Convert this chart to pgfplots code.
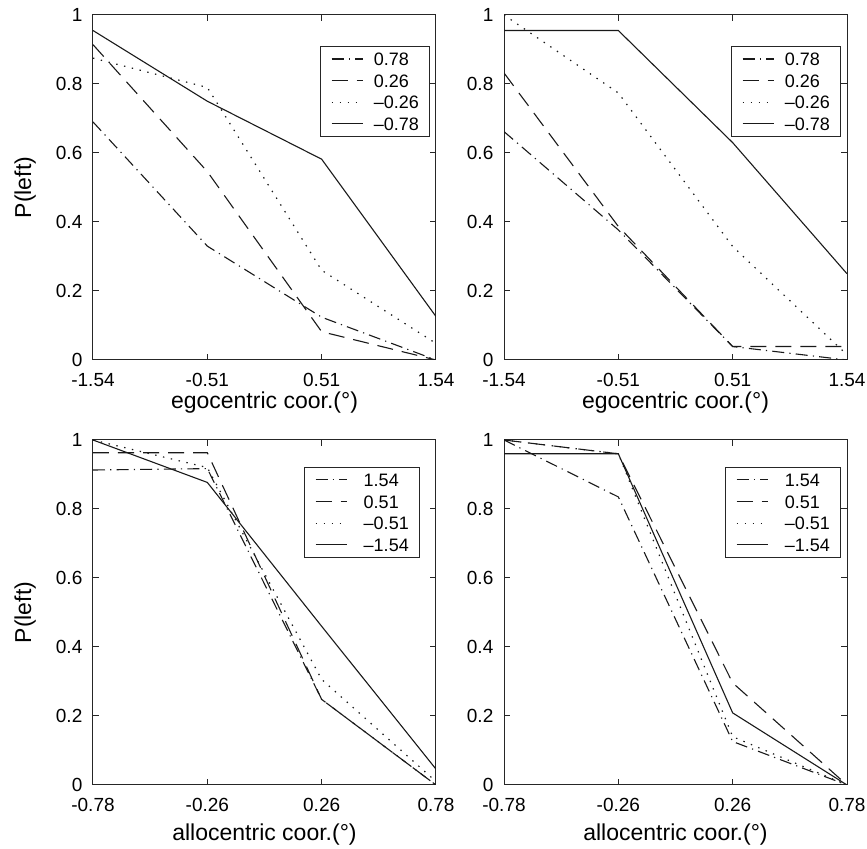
\documentclass[border=0pt]{standalone}
\usepackage{fontspec}
\setmainfont{Liberation Sans}
\usepackage{pgfplots}
\pgfplotsset{compat=1.18}

\newcommand{\tg}[1]{\hspace*{5pt}#1\hspace{-5pt}}
\newcommand{\bg}[1]{\hspace*{8pt}#1\hspace{-5pt}}
\pgfplotsset{
  panel/.style={
    scale only axis, width=171.5pt, height=172.5pt,
    anchor=south west,
    xmin=0, xmax=3, ymin=0, ymax=1,
    xtick={0,1,2,3}, ytick={0,0.2,0.4,0.6,0.8,1},
    tick align=inside, tick pos=both, major tick length=3pt,
    axis line style={line width=0.5pt, black!85},
    every tick/.style={black!85, line width=0.5pt},
    tick label style={font=\fontsize{9.5}{11}\selectfont},
    xticklabel style={yshift=-3pt},
    yticklabel style={xshift=-1.8pt},
    label style={font=\fontsize{11.5}{13}\selectfont},
    /pgf/number format/assume math mode=true,
    legend cell align=left,
    legend image code/.code={\draw[##1] (0pt,0pt) -- (15.8pt,0pt);},
    legend style={draw=black!85, line width=0.5pt, fill=white,
      anchor=north east,
      font=\fontsize{9}{10}\selectfont,
      inner xsep=5.3pt, inner ysep=3pt,
      nodes={inner sep=0pt, text height=6.5pt, text depth=0pt},
      row sep=4.3pt, column sep=0pt},
  },
  egoticks/.style={xticklabels={-1.54,-0.51,0.51,1.54},
    xlabel={egocentric coor.(°)},
    xlabel style={at={(axis description cs:0.5,-0.1246)}, anchor=center},
    legend style={at={(axis description cs:0.9825,0.910)}}},
  alloticks/.style={xticklabels={-0.78,-0.26,0.26,0.78},
    xlabel={allocentric coor.(°)},
    xlabel style={at={(axis description cs:0.5,-0.145)}, anchor=center}},
  withylabel/.style={ylabel={P(left)},
    ylabel style={at={(axis description cs:-0.198,0.5)}, anchor=center}},
  dd/.style={black!90, line width=0.55pt, dash pattern=on 6pt off 2.6pt on 0.6pt off 2.6pt},
  da/.style={black!90, line width=0.55pt, dash pattern=on 8pt off 4.5pt},
  dt/.style={black!90, line width=0.6pt, dash pattern=on 0.7pt off 3.3pt},
  so/.style={black!90, line width=0.55pt},
}

\begin{document}
\begin{tikzpicture}
\path[use as bounding box] (-46.5pt,-32pt) rectangle (387pt,392.5pt);

% top-left
\begin{axis}[panel, egoticks, withylabel, at={(0pt,212.5pt)}]
\addplot[dd] coordinates {(0,0.69) (1,0.33) (2,0.124) (3,0.0)};
\addlegendentry{\tg{0.78}}
\addplot[da] coordinates {(0,0.914) (1,0.546) (2,0.082) (3,0.0)};
\addlegendentry{\tg{0.26}}
\addplot[dt] coordinates {(0,0.875) (1,0.79) (2,0.26) (3,0.048)};
\addlegendentry{\tg{–0.26}}
\addplot[so] coordinates {(0,0.955) (1,0.75) (2,0.582) (3,0.126)};
\addlegendentry{\tg{–0.78}}
\end{axis}

% top-right
\begin{axis}[panel, egoticks, at={(205.5pt,212.5pt)}]
\addplot[dd] coordinates {(0,0.662) (1,0.377) (2,0.039) (3,0.0)};
\addlegendentry{\tg{0.78}}
\addplot[da] coordinates {(0,0.832) (1,0.387) (2,0.039) (3,0.039)};
\addlegendentry{\tg{0.26}}
\addplot[dt] coordinates {(0,1.0) (1,0.774) (2,0.329) (3,0.015)};
\addlegendentry{\tg{–0.26}}
\addplot[so] coordinates {(0,0.955) (1,0.955) (2,0.63) (3,0.25)};
\addlegendentry{\tg{–0.78}}
\end{axis}

% bottom-left
\begin{axis}[panel, alloticks, withylabel, at={(0pt,0pt)},
  legend style={at={(axis description cs:0.953,0.922)}}]
\addplot[dd] coordinates {(0,0.913) (1,0.917) (2,0.248) (3,0.0)};
\addlegendentry{\bg{1.54}}
\addplot[da] coordinates {(0,0.963) (1,0.963) (2,0.248) (3,0.0)};
\addlegendentry{\bg{0.51}}
\addplot[dt] coordinates {(0,1.0) (1,0.92) (2,0.306) (3,0.01)};
\addlegendentry{\bg{–0.51}}
\addplot[so] coordinates {(0,1.0) (1,0.877) (2,0.46) (3,0.046)};
\addlegendentry{\bg{–1.54}}
\end{axis}

% bottom-right
\begin{axis}[panel, alloticks, at={(205.5pt,0pt)},
  legend style={at={(axis description cs:0.9825,0.922)}}]
\addplot[dd] coordinates {(0,1.0) (1,0.835) (2,0.126) (3,0.0)};
\addlegendentry{\bg{1.54}}
\addplot[da] coordinates {(0,1.0) (1,0.96) (2,0.296) (3,0.0)};
\addlegendentry{\bg{0.51}}
\addplot[dt] coordinates {(0,1.0) (1,0.96) (2,0.14) (3,0.0)};
\addlegendentry{\bg{–0.51}}
\addplot[so] coordinates {(0,0.96) (1,0.96) (2,0.209) (3,0.0)};
\addlegendentry{\bg{–1.54}}
\end{axis}
\end{tikzpicture}
\end{document}
